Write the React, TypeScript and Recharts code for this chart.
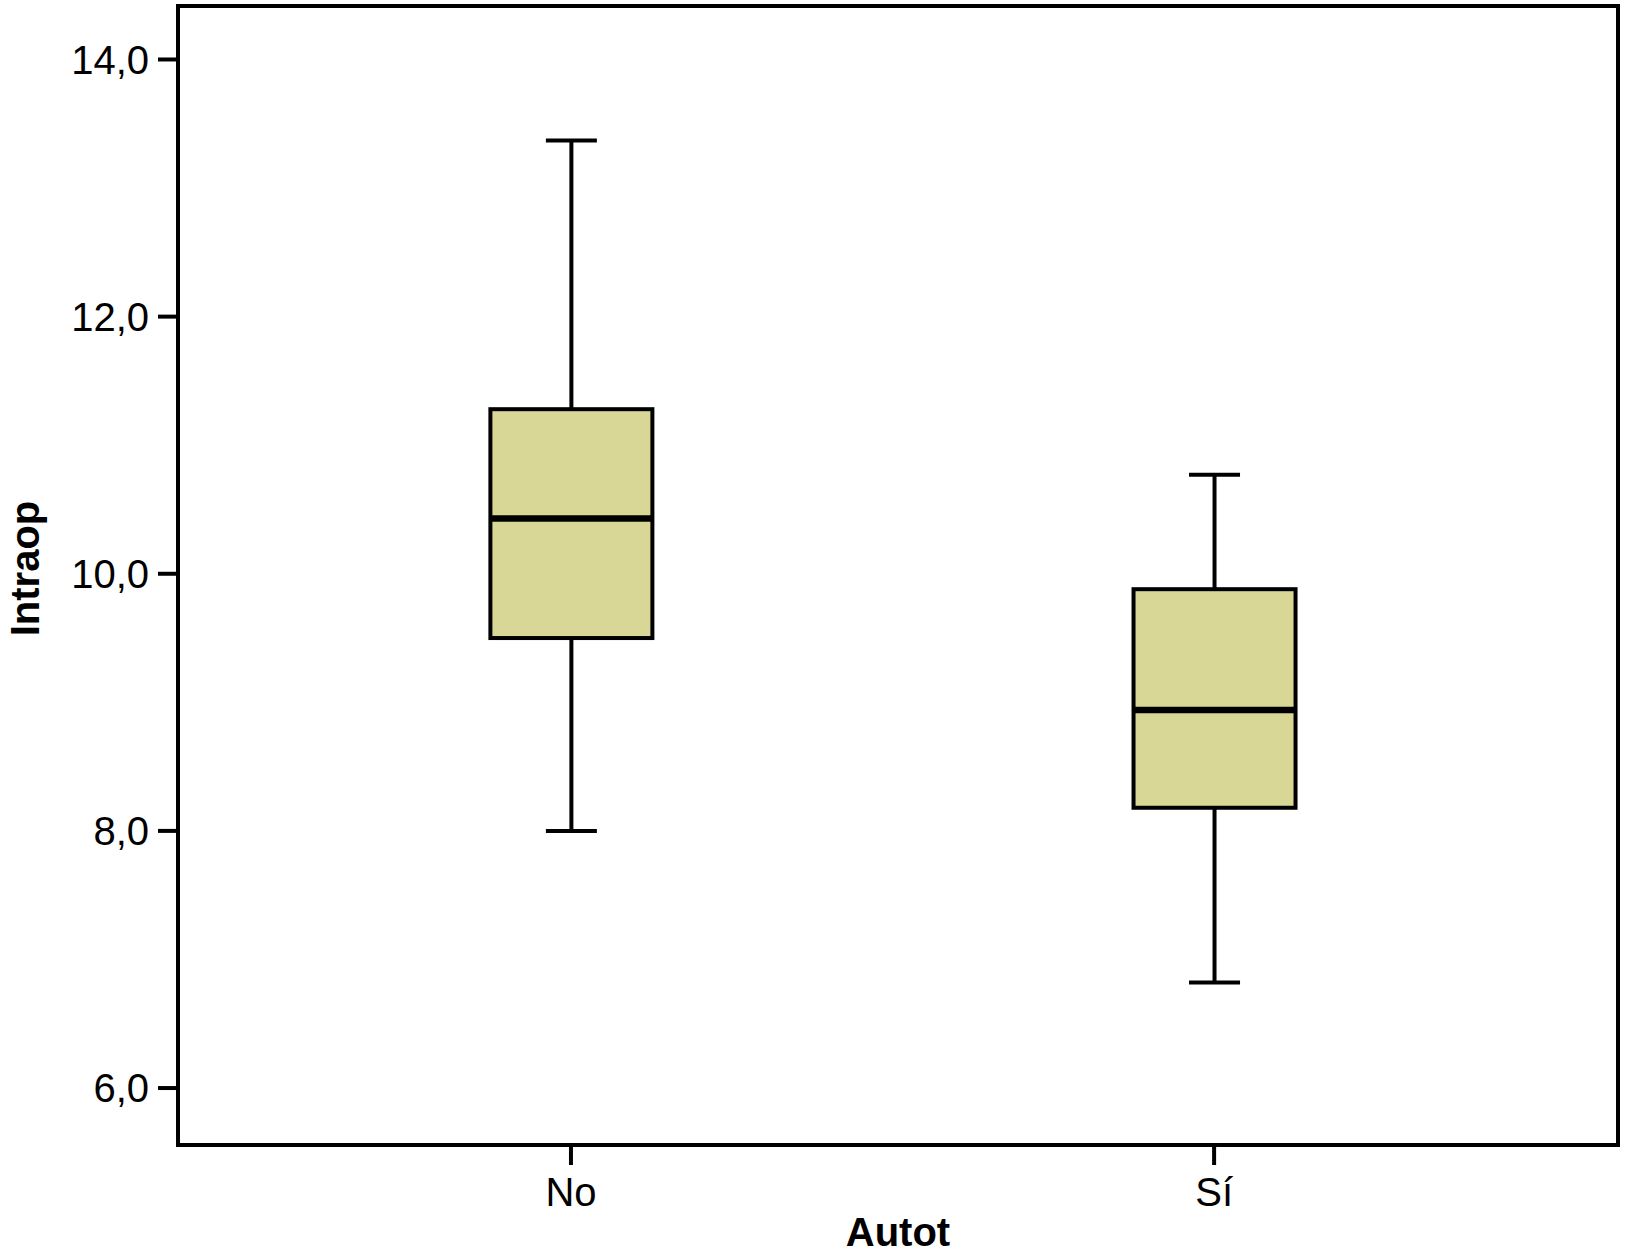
import { BarChart, Bar, XAxis, YAxis, ReferenceArea } from 'recharts';

const categories = ['No', 'Sí'];
const whiskerLow = [8.0, 6.82];
const q1 = [9.5, 8.18];
const median = [10.43, 8.94];
const q3 = [11.28, 9.88];
const whiskerHigh = [13.37, 10.77];
const yTicks = [6, 8, 10, 12, 14];

const data = categories.map((name, i) => ({
  name,
  idx: i,
  min: whiskerLow[i],
  q1: q1[i],
  median: median[i],
  q3: q3[i],
  max: whiskerHigh[i],
  range: [whiskerLow[i], whiskerHigh[i]],
}));

const FONT = '"Liberation Sans", Arial, Helvetica, sans-serif';
const FILL = '#d9d796';
const LINE = 4;
const Y_MIN = 5.557;
const Y_MAX = 14.416;
const X_MIN = -0.611;
const X_MAX = 1.628;

const BoxShape = (props: any) => {
  const { x, y, width, height, payload } = props;
  const top = Math.min(y, y + height);
  const h = Math.abs(height);
  const k = h / (payload.max - payload.min);
  const yOf = (v: number) => top + (payload.max - v) * k;
  const cx = x + width / 2;
  const cap = 25.5;

  return (
    <g>
      <line x1={cx} x2={cx} y1={yOf(payload.max)} y2={yOf(payload.q3)} stroke='#000' strokeWidth={LINE} />
      <line x1={cx} x2={cx} y1={yOf(payload.q1)} y2={yOf(payload.min)} stroke='#000' strokeWidth={LINE} />
      <line x1={cx - cap} x2={cx + cap} y1={yOf(payload.max)} y2={yOf(payload.max)} stroke='#000' strokeWidth={LINE} />
      <line x1={cx - cap} x2={cx + cap} y1={yOf(payload.min)} y2={yOf(payload.min)} stroke='#000' strokeWidth={LINE} />
      <rect
        x={x}
        y={yOf(payload.q3)}
        width={width}
        height={yOf(payload.q1) - yOf(payload.q3)}
        fill={FILL}
        stroke='#000'
        strokeWidth={LINE}
      />
      <line x1={x} x2={x + width} y1={yOf(payload.median)} y2={yOf(payload.median)} stroke='#000' strokeWidth={6.5} />
    </g>
  );
};

const YLabel = (props: any) => {
  const { viewBox } = props;
  const cy = viewBox.y + viewBox.height / 2 - 7;
  return (
    <text
      x={25}
      y={cy}
      transform={`rotate(-90, 25, ${cy})`}
      textAnchor='middle'
      dominantBaseline='central'
      fontFamily={FONT}
      fontWeight='bold'
      fontSize={40}
      fill='#000'
    >
      Intraop
    </text>
  );
};

const XLabel = (props: any) => {
  const { viewBox } = props;
  return (
    <text
      x={viewBox.x + viewBox.width / 2}
      y={1246}
      textAnchor='middle'
      fontFamily={FONT}
      fontWeight='bold'
      fontSize={40}
      fill='#000'
    >
      Autot
    </text>
  );
};

const fmt = (v: number) => v.toFixed(1).replace('.', ',');

export default function App() {
  return (
    <div style={{ position: 'absolute', left: 0, top: 0, background: '#fff' }}>
      <BarChart width={1625} height={1257} data={data} margin={{ top: 6, right: 7, bottom: 0, left: 0 }}>
        <XAxis
          dataKey='idx'
          type='number'
          domain={[X_MIN, X_MAX]}
          allowDataOverflow
          ticks={categories.map((_, i) => i)}
          tickFormatter={(i: number) => categories[i] ?? ''}
          height={112}
          axisLine={{ stroke: '#000', strokeWidth: LINE }}
          tickLine={{ stroke: '#000', strokeWidth: LINE }}
          tickSize={20}
          tickMargin={13}
          tick={{ fill: '#000', fontSize: 40, fontFamily: FONT }}
          label={<XLabel />}
        />
        <YAxis
          type='number'
          width={178}
          domain={[Y_MIN, Y_MAX]}
          allowDataOverflow
          ticks={yTicks}
          tickFormatter={fmt}
          axisLine={{ stroke: '#000', strokeWidth: LINE }}
          tickLine={{ stroke: '#000', strokeWidth: LINE }}
          tickSize={20}
          tickMargin={9}
          tick={{ fill: '#000', fontSize: 40, fontFamily: FONT }}
          label={<YLabel />}
        />
        <ReferenceArea
          x1={X_MIN}
          x2={X_MAX}
          y1={Y_MIN}
          y2={Y_MAX}
          fill='none'
          fillOpacity={0}
          stroke='#000'
          strokeWidth={LINE}
          ifOverflow='visible'
        />
        <Bar dataKey='range' barSize={162} shape={<BoxShape />} isAnimationActive={false} />
      </BarChart>
    </div>
  );
}
